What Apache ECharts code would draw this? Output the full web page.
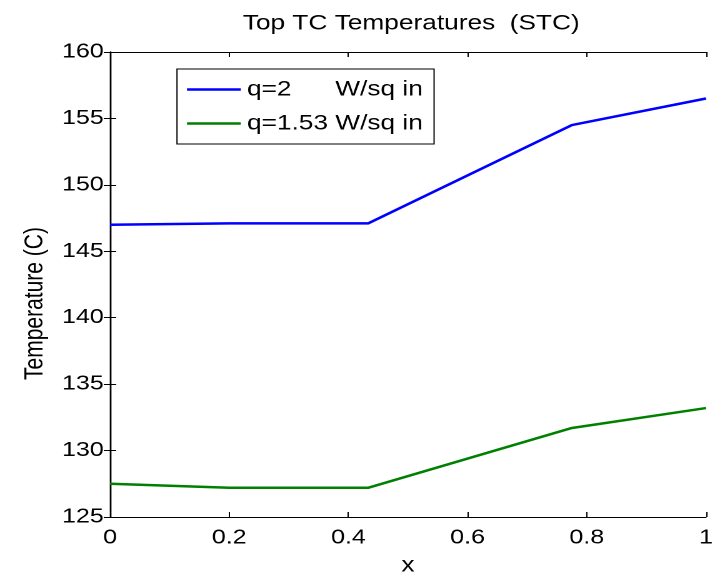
<!DOCTYPE html>
<html>
<head>
<meta charset="utf-8">
<script src="https://cdn.jsdelivr.net/npm/echarts@6/dist/echarts.min.js"></script>
<style>
  html, body { margin: 0; padding: 0; background: #fff; overflow: hidden; }
  /* the original figure was exported wider than it was drawn, so stretch it the same way */
  #main { width: 572px; height: 578px; transform: scaleX(1.25); transform-origin: 0 0; }
</style>
</head>
<body>
<div id="main"></div>
<script>
// data
var xPos = [0, 0.2, 0.433, 0.775, 1];
var q2 = [147.0, 147.1, 147.1, 154.5, 156.5];
var q153 = [127.5, 127.2, 127.2, 131.7, 133.2];
var seriesNames = ['q=2      W/sq in', 'q=1.53 W/sq in'];

var font = 'Liberation Sans, Arial, Helvetica, sans-serif';

function pairs(xs, ys) {
  return xs.map(function (x, i) { return [x, ys[i]]; });
}

var myChart = echarts.init(document.getElementById('main'), null, { devicePixelRatio: 2 });

var tickCommon = { inside: true, length: 5, lineStyle: { color: '#000', width: 1 } };

var option = {
  backgroundColor: '#fff',
  animation: false,
  title: {
    text: 'Top TC Temperatures  (STC)',
    left: 324,
    textAlign: 'center',
    top: 8,
    textStyle: { fontFamily: font, fontSize: 21, fontWeight: 'normal', color: '#000' }
  },
  grid: { left: 88, right: 7.2, top: 52, bottom: 61, outerBoundsMode: 'none' },
  legend: {
    orient: 'vertical',
    left: 141.6,
    top: 69,
    padding: [10, 9, 10, 8],
    itemGap: 13,
    itemWidth: 43,
    itemHeight: 20,
    borderColor: '#000',
    borderWidth: 1,
    borderRadius: 0,
    icon: 'path://M0,0 L43,0 L43,2.5 L0,2.5 Z',
    textStyle: { fontFamily: font, fontSize: 21, lineHeight: 20, color: '#000' },
    data: seriesNames
  },
  xAxis: [{
    type: 'value',
    min: 0, max: 1, interval: 0.2,
    name: 'x',
    nameLocation: 'middle',
    nameGap: 38,
    nameTextStyle: { fontFamily: font, fontSize: 21, color: '#000' },
    axisLine: { lineStyle: { color: '#000', width: 1 } },
    axisTick: tickCommon,
    axisLabel: { fontFamily: font, fontSize: 20, color: '#000', margin: 11 },
    splitLine: { show: false }
  }, {
    type: 'value',
    position: 'top',
    min: 0, max: 1, interval: 0.2,
    axisLine: { show: true, lineStyle: { color: '#000', width: 1 } },
    axisTick: tickCommon,
    axisLabel: { show: false },
    splitLine: { show: false }
  }],
  yAxis: [{
    type: 'value',
    min: 125, max: 160, interval: 5,
    name: 'Temperature (C)',
    nameLocation: 'middle',
    nameGap: 46,
    nameTextStyle: { fontFamily: font, fontSize: 21, color: '#000', padding: [0, 38, 0, 0] },
    axisLine: { lineStyle: { color: '#000', width: 1.2 } },
    axisTick: tickCommon,
    axisLabel: { fontFamily: font, fontSize: 20, color: '#000', margin: 5 },
    splitLine: { show: false }
  }, {
    type: 'value',
    position: 'right',
    min: 125, max: 160, interval: 5,
    axisLine: { show: true, lineStyle: { color: '#000', width: 1.2 } },
    axisTick: tickCommon,
    axisLabel: { show: false },
    splitLine: { show: false }
  }],
  series: [{
    name: seriesNames[0],
    type: 'line',
    data: pairs(xPos, q2),
    showSymbol: false,
    color: '#0000ff',
    lineStyle: { width: 2.5, color: '#0000ff' }
  }, {
    name: seriesNames[1],
    type: 'line',
    data: pairs(xPos, q153),
    showSymbol: false,
    color: '#008000',
    lineStyle: { width: 2.5, color: '#008000' }
  }]
};

myChart.setOption(option);
window.onresize = function () {
  myChart.resize();
};
</script>
</body>
</html>
